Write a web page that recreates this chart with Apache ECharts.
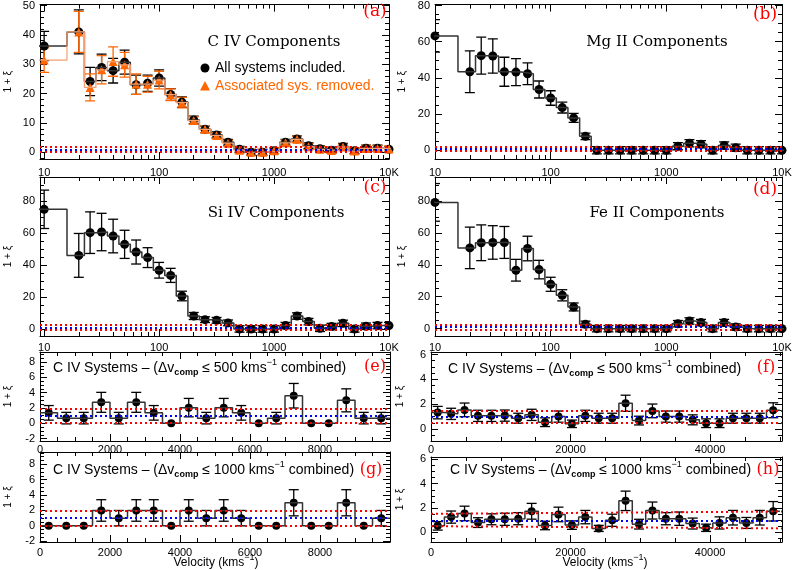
<!DOCTYPE html>
<html>
<head>
<meta charset="utf-8">
<script src="https://cdn.jsdelivr.net/npm/echarts@6/dist/echarts.min.js"></script>
<style>
html, body { margin: 0; padding: 0; background: #fff; }
#chart { width: 797px; height: 570px; }
</style>
</head>
<body>
<div id="chart"></div>
<script>
// ---- velocity bins (km/s) ----
// log panels: bin edges and plotted centres
const logEdges = [5, 15.8, 22.4, 28.2, 35.5, 44.7, 56.2, 70.8, 89.1, 112, 141, 178, 224, 282, 355, 447, 562, 708, 891, 1122, 1413, 1778, 2239, 2818, 3548, 4467, 5623, 7079, 8913, 11220];
const logCentres = [10, 20, 25.1, 31.6, 39.8, 50.1, 63.1, 79.4, 100, 126, 158, 200, 251, 316, 398, 501, 631, 794, 1000, 1259, 1585, 1995, 2512, 3162, 3981, 5012, 6310, 7943, 10000];
// linear panels (e, g): 500 km/s bins
const sysEdges = [0, 500, 1000, 1500, 2000, 2500, 3000, 3500, 4000, 4500, 5000, 5500, 6000, 6500, 7000, 7500, 8000, 8500, 9000, 9500, 10000];
const sysCentres = [250, 750, 1250, 1750, 2250, 2750, 3250, 3750, 4250, 4750, 5250, 5750, 6250, 6750, 7250, 7750, 8250, 8750, 9250, 9750];
// linear panels (f, h): 26 bins up to 50000 km/s
const wideEdges = [0, 1923, 3846, 5769, 7692, 9615, 11538, 13462, 15385, 17308, 19231, 21154, 23077, 25000, 26923, 28846, 30769, 32692, 34615, 36538, 38462, 40385, 42308, 44231, 46154, 48077, 50000];
const wideCentres = [962, 2885, 4808, 6731, 8654, 10577, 12500, 14423, 16346, 18269, 20192, 22115, 24038, 25962, 27885, 29808, 31731, 33654, 35577, 37500, 39423, 41346, 43269, 45192, 47115, 49038];

// ---- (a) C IV components ----
const civAll = [36.2, 41.0, 24.1, 28.9, 27.8, 30.7, 23.0, 23.5, 25.3, 19.7, 17.1, 11.0, 7.8, 5.9, 3.4, 1.0, 0, 0, 0.5, 3.4, 4.5, 2.2, 1.2, 0.7, 2.0, 0.5, 1.4, 1.4, 1.0];
const civAllErr = [5.0, 7.5, 4.8, 4.5, 4.2, 4.1, 3.3, 2.8, 2.8, 2.0, 1.8, 1.3, 1.1, 1.0, 1.0, 1.0, 1.0, 1.0, 1.0, 1.0, 1.1, 1.0, 1.0, 1.0, 1.0, 1.0, 1.0, 1.0, 1.0];
const civNoAssoc = [31.4, 41.0, 22.1, 28.1, 30.9, 29.8, 23.2, 23.2, 24.6, 19.6, 16.9, 10.8, 7.8, 5.7, 3.1, 0.7, 0, 0, 0.5, 3.2, 4.4, 1.9, 1.0, 0.6, 1.8, 0.4, 1.3, 1.3, 1.1];
const civNoAssocErr = [4.2, 7.0, 4.6, 4.8, 5.0, 4.2, 3.5, 2.7, 3.0, 2.0, 1.8, 1.3, 1.1, 1.0, 1.0, 1.0, 1.0, 1.0, 1.0, 1.0, 1.1, 1.0, 1.0, 1.0, 1.0, 1.0, 1.0, 1.0, 1.0];
// ---- (b) Mg II ----
const mg2 = [63.2, 43.4, 52.3, 52.1, 43.4, 43.2, 42.3, 33.6, 28.9, 23.6, 17.9, 7.7, 0, 0, 0, 0, 0, 0, 0, 2.3, 3.9, 3.4, 0, 2.7, 1.4, 0, 0, 0, 0];
const mg2Err = [9.0, 11.5, 10.2, 9.5, 8.0, 7.5, 6.0, 4.7, 4.0, 3.0, 2.5, 1.8, 2, 2, 2, 2, 2, 2, 2, 2, 2, 2, 2, 2, 2, 2, 2, 2, 2];
// ---- (c) Si IV ----
const si4 = [74.8, 46.0, 60.2, 60.6, 58.1, 52.9, 48.1, 44.6, 36.7, 33.5, 20.6, 8.1, 5.8, 5.4, 3.8, 0, 0, 0, 0, 2.1, 8.1, 4.6, 0.4, 1.5, 3.5, 0, 1.7, 2.1, 2.1];
const si4Err = [12.0, 13.7, 13.0, 11.7, 10.5, 8.8, 7.5, 6.2, 4.9, 4.4, 3.0, 2.2, 1.8, 1.8, 1.8, 2, 2, 2, 2, 2, 2, 2, 2, 2, 2, 2, 2, 2, 2];
// ---- (d) Fe II ----
const fe2 = [79.1, 50.6, 53.8, 54.0, 54.0, 36.6, 50.2, 37.0, 27.8, 20.9, 13.6, 2.7, 0, 0, 0, 0, 0, 0, 0, 3.1, 4.8, 3.8, 0, 3.8, 1.0, 0, 0, 0, 0];
const fe2Err = [11.8, 13.0, 11.2, 10.5, 10.0, 6.8, 7.7, 5.8, 4.4, 3.5, 2.5, 2.0, 2, 2, 2, 2, 2, 2, 2, 2, 2, 2, 2, 2, 2, 2, 2, 2, 2];
// ---- (e) C IV systems, 500 km/s merged ----
const sys500 = [1.37, 0.68, 0.68, 2.74, 0.68, 2.74, 1.37, 0, 2.05, 0.68, 2.05, 1.37, 0, 0.68, 3.6, 0, 0, 3.0, 0.68, 0.68];
const sys500Err = [0.95, 0.75, 0.75, 1.3, 0.75, 1.3, 0.95, 0, 1.2, 0.75, 1.2, 0.95, 0, 0.75, 1.6, 0, 0, 1.5, 0.75, 0.75];
// ---- (f) ----
const sys500w = [1.33, 1.23, 1.55, 1.07, 1.07, 1.09, 0.88, 1.15, 0.56, 1.01, 0.43, 1.07, 0.88, 0.88, 2.08, 0.69, 1.47, 1.01, 1.01, 0.75, 0.48, 0.48, 0.88, 0.88, 0.88, 1.52];
const sys500wErr = [0.5, 0.45, 0.55, 0.45, 0.45, 0.45, 0.4, 0.45, 0.35, 0.45, 0.3, 0.45, 0.4, 0.4, 0.65, 0.35, 0.55, 0.45, 0.45, 0.4, 0.35, 0.35, 0.4, 0.4, 0.4, 0.6];
// ---- (g) C IV systems, 1000 km/s merged ----
const sys1000 = [0, 0, 0, 2, 1, 2, 2, 0, 2, 1, 2, 1, 0, 0, 3, 0, 0, 3, 0, 1];
const sys1000Err = [0, 0, 0, 1.4, 1, 1.4, 1.4, 0, 1.4, 1, 1.4, 1, 0, 0, 1.7, 0, 0, 1.7, 0, 1];
// ---- (h) ----
const sys1000w = [0.53, 1.25, 1.55, 0.8, 1.07, 1.07, 1.12, 1.73, 0.56, 1.47, 0.59, 1.25, 0.32, 0.99, 2.59, 0.67, 1.79, 1.12, 1.12, 0.72, 0.37, 0.77, 1.2, 0.77, 1.2, 1.73];
const sys1000wErr = [0.35, 0.5, 0.6, 0.4, 0.45, 0.5, 0.5, 0.65, 0.35, 0.6, 0.35, 0.55, 0.25, 0.5, 0.8, 0.4, 0.7, 0.5, 0.55, 0.45, 0.3, 0.5, 0.6, 0.45, 0.6, 0.8];

// reference levels [start, end] : red, blue, red
const refA = [[2.0, 2.0], [1.0, 1.0], [0, 0]];
const refB = [[2.2, 2.2], [1.0, 1.0], [-0.2, -0.2]];
const refCD = [[2.6, 2.6], [1.0, 1.0], [-0.5, -0.5]];
const refE = [[1.9, 1.9], [1.0, 1.0], [0.1, 0.1]];
const refF = [[1.5, 1.5], [1.0, 1.0], [0.5, 0.5]];
const refG = [[2, 2], [1, 1], [0, 0]];
const refH = [[1.52, 1.71], [0.98, 0.98], [0.5, 0.32]];

const FONT = 'Liberation Sans, Helvetica, Arial, sans-serif';
const SERIF = 'DejaVu Serif, Liberation Serif, serif';
const ORANGE = '#ff6600';
const STEP = '#333';

const grids = [], xAxes = [], yAxes = [], series = [];

function ticksBetween(a, b, step) {
  const out = [];
  for (let v = a; v <= b + 1e-9; v += step) out.push(+v.toFixed(6));
  return out;
}
function logMinor(lo, hi) {
  const out = [];
  for (let d = 1; d <= 10000; d *= 10)
    for (let k = 1; k < 10; k++) {
      const v = d * k;
      if (v >= lo && v <= hi) out.push(Math.log10(v));
    }
  return out;
}

function stepData(edges, vals) {
  const out = [];
  vals.forEach((v, i) => { out.push([edges[i], v], [edges[i + 1], v]); });
  return out;
}
function errData(xs, vals, errs) {
  return xs.map((x, i) => [x, vals[i] - errs[i], vals[i] + errs[i]]);
}
function ptData(xs, vals) {
  return xs.map((x, i) => [x, vals[i]]);
}
function errRender(color) {
  return function (params, api) {
    const x = api.value(0), lo = api.value(1), hi = api.value(2);
    if (hi - lo <= 0) return { type: 'group', children: [] };
    const t = api.coord([x, hi]), b = api.coord([x, lo]);
    const w = 5, st = { stroke: color, lineWidth: 1.3 };
    return {
      type: 'group', children: [
        { type: 'line', shape: { x1: t[0], y1: t[1], x2: b[0], y2: b[1] }, style: st },
        { type: 'line', shape: { x1: t[0] - w, y1: t[1], x2: t[0] + w, y2: t[1] }, style: st },
        { type: 'line', shape: { x1: b[0] - w, y1: b[1], x2: b[0] + w, y2: b[1] }, style: st }
      ]
    };
  };
}

function addPanel(p) {
  const g = grids.length;
  grids.push({ left: p.box[0], top: p.box[1], width: p.box[2] - p.box[0], height: p.box[3] - p.box[1] });
  const xi = xAxes.length, yi = yAxes.length;
  const line = { show: true, onZero: false, lineStyle: { color: '#000', width: 1 } };
  const noLine = { show: false, onZero: false };
  const tickStyle = { color: '#000', width: 1 };

  ['bottom', 'top'].forEach(pos => {
    const major = {
      gridIndex: g, position: pos, splitLine: { show: false }, axisLine: line,
      axisTick: { inside: true, length: 7, lineStyle: tickStyle },
      axisLabel: pos === 'bottom' ? {
        margin: p.xMargin, fontSize: 11, color: '#000', fontFamily: FONT,
        showMinLabel: p.log ? p.x[0] >= 10 : true, showMaxLabel: true,
        formatter: v => (v >= 10000 && p.log) ? '10K' : String(Math.round(v))
      } : { show: false }
    };
    if (p.log) Object.assign(major, { type: 'log', logBase: 10, min: p.x[0], max: p.x[1] });
    else {
      Object.assign(major, { type: 'value', min: p.x[0], max: p.x[1] });
      major.axisTick.customValues = p.xMajor;
      if (pos === 'bottom') major.axisLabel.customValues = p.xLabels;
    }
    xAxes.push(major);
    const minor = {
      gridIndex: g, position: pos, type: 'value', splitLine: { show: false }, axisLine: noLine,
      axisLabel: { show: false },
      axisTick: { inside: true, length: 4, lineStyle: tickStyle,
        customValues: p.log ? logMinor(p.x[0], p.x[1]) : p.xMinor }
    };
    if (p.log) Object.assign(minor, { min: Math.log10(p.x[0]), max: Math.log10(p.x[1]) });
    else Object.assign(minor, { min: p.x[0], max: p.x[1] });
    xAxes.push(minor);
  });

  ['left', 'right'].forEach(pos => {
    const major = {
      gridIndex: g, position: pos, type: 'value', min: p.y[0], max: p.y[1],
      splitLine: { show: false }, axisLine: line,
      axisTick: { inside: true, length: 7, lineStyle: tickStyle, customValues: p.yMajor },
      axisLabel: pos === 'left' ? {
        margin: 5, fontSize: 11, color: '#000', fontFamily: FONT, customValues: p.yMajor
      } : { show: false }
    };
    if (pos === 'left') Object.assign(major, {
      name: '1 + ξ', nameLocation: 'middle', nameGap: p.nameGap,
      nameTextStyle: { fontSize: 10, color: '#000', fontFamily: FONT }
    });
    yAxes.push(major);
    yAxes.push({
      gridIndex: g, position: pos, type: 'value', min: p.y[0], max: p.y[1],
      splitLine: { show: false }, axisLine: noLine, axisLabel: { show: false },
      axisTick: { inside: true, length: 4, lineStyle: tickStyle, customValues: p.yMinor }
    });
  });

  const refColors = ['#ff0000', '#0000ff', '#ff0000'];
  series.push({
    type: 'line', xAxisIndex: xi, yAxisIndex: yi, data: [], silent: true,
    markLine: {
      silent: true, symbol: 'none', label: { show: false }, animation: false,
      data: p.ref.map((r, k) => [
        { coord: [p.x[0], r[0]], lineStyle: { color: refColors[k], type: [2, 3], width: 2 } },
        { coord: [p.x[1], r[1]] }
      ])
    }
  });
  p.sets.forEach(s => {
    series.push({
      type: 'line', xAxisIndex: xi, yAxisIndex: yi, data: stepData(p.edges, s.vals),
      symbol: 'none', showSymbol: false, clip: true, silent: true,
      lineStyle: { color: s.stepColor || STEP, width: s.stepWidth || 1.5 }
    });
  });
  p.sets.forEach(s => {
    series.push({
      type: 'custom', xAxisIndex: xi, yAxisIndex: yi, clip: true, silent: true,
      renderItem: errRender(s.color), encode: { x: 0, y: [1, 2] },
      data: errData(p.centres, s.vals, s.errs)
    });
    series.push({
      type: 'scatter', xAxisIndex: xi, yAxisIndex: yi, silent: true,
      symbol: s.symbol || 'circle', symbolSize: s.size || 9,
      itemStyle: { color: s.color, opacity: 1 },
      data: ptData(p.centres, s.vals)
    });
  });
}

const logBase = { log: true, edges: logEdges, centres: logCentres };
addPanel(Object.assign({}, logBase, {
  box: [40, 0, 389, 159], x: [9.2, 10000], y: [-2.3, 50.3],
  yMajor: [0, 10, 20, 30, 40, 50], yMinor: ticksBetween(-2, 50, 2), xMargin: 8, nameGap: 27, ref: refA,
  sets: [
    { vals: civAll, errs: civAllErr, color: '#000' },
    { vals: civNoAssoc, errs: civNoAssocErr, color: ORANGE, symbol: 'triangle', size: 9, stepColor: '#f5a070', stepWidth: 1.2 }
  ]
}));
addPanel(Object.assign({}, logBase, {
  box: [435, 0, 782, 159], x: [10, 10000], y: [-4.8, 80.5],
  yMajor: [0, 20, 40, 60, 80], yMinor: ticksBetween(0, 80, 5), xMargin: 8, nameGap: 28, ref: refB,
  sets: [{ vals: mg2, errs: mg2Err, color: '#000' }]
}));
addPanel(Object.assign({}, logBase, {
  box: [40, 177, 389, 336], x: [9.2, 10000], y: [-4.4, 95],
  yMajor: [0, 20, 40, 60, 80], yMinor: ticksBetween(0, 95, 5), xMargin: 6, nameGap: 27, ref: refCD,
  sets: [{ vals: si4, errs: si4Err, color: '#000' }]
}));
addPanel(Object.assign({}, logBase, {
  box: [435, 177, 782, 336], x: [10, 10000], y: [-4.6, 95],
  yMajor: [0, 20, 40, 60, 80], yMinor: ticksBetween(0, 95, 5), xMargin: 6, nameGap: 28, ref: refCD,
  sets: [{ vals: fe2, errs: fe2Err, color: '#000' }]
}));
const sysBase = {
  log: false, edges: sysEdges, centres: sysCentres, x: [0, 10000],
  xMajor: ticksBetween(0, 10000, 2000), xLabels: [0, 2000, 4000, 6000, 8000], xMinor: ticksBetween(0, 10000, 500),
  yMajor: [-2, 0, 2, 4, 6, 8], nameGap: 27
};
const wideBase = {
  log: false, edges: wideEdges, centres: wideCentres, x: [0, 50300],
  xMajor: [0, 20000, 40000], xLabels: [0, 20000, 40000], xMinor: ticksBetween(0, 50000, 5000),
  yMajor: [0, 2, 4, 6], yMinor: ticksBetween(-0.5, 6, 0.5), nameGap: 26
};
addPanel(Object.assign({}, sysBase, {
  box: [40, 352, 390, 441], y: [-2.3, 9.3], yMinor: ticksBetween(-2, 9, 0.5), xMargin: 3, ref: refE,
  sets: [{ vals: sys500, errs: sys500Err, color: '#000', size: 8 }]
}));
addPanel(Object.assign({}, wideBase, {
  box: [431, 352, 782, 441], y: [-0.95, 6.2], xMargin: 3, ref: refF,
  sets: [{ vals: sys500w, errs: sys500wErr, color: '#000', size: 8 }]
}));
addPanel(Object.assign({}, sysBase, {
  box: [40, 452, 390, 542], y: [-2.1, 9.6], yMinor: ticksBetween(-2, 9.5, 0.5), xMargin: 5, ref: refG,
  sets: [{ vals: sys1000, errs: sys1000Err, color: '#000', size: 8 }]
}));
addPanel(Object.assign({}, wideBase, {
  box: [431, 457, 782, 542], y: [-0.8, 6.2], xMargin: 5, ref: refH,
  sets: [{ vals: sys1000w, errs: sys1000wErr, color: '#000', size: 8 }]
}));

function txt(x, y, text, font, fill, align, rich) {
  const style = { text, font, fill, align: align || 'center', verticalAlign: 'middle',
    textAlign: align || 'center', textVerticalAlign: 'middle' };
  if (rich) style.rich = rich;
  return { type: 'text', x, y, silent: true, z: 100, style };
}
const subSup = {
  sub: { fontSize: 9, fontWeight: 'bold', fontFamily: FONT, lineHeight: 19, verticalAlign: 'bottom', fill: '#000' },
  sup: { fontSize: 9, fontFamily: FONT, lineHeight: 19, verticalAlign: 'top', fill: '#000' }
};
const sysTitle = n => 'C IV Systems – (Δv{sub|comp} ≤ ' + n + ' kms{sup|−1} combined)';

const graphic = [
  txt(274, 42, 'C IV Components', '15px ' + SERIF, '#000'),
  txt(657, 42, 'Mg II Components', '15px ' + SERIF, '#000'),
  txt(276, 213, 'Si IV Components', '15px ' + SERIF, '#000'),
  txt(657, 213, 'Fe II Components', '15px ' + SERIF, '#000'),
  txt(375, 12, '(a)', '17px ' + SERIF, '#ff0000'),
  txt(765, 15, '(b)', '17px ' + SERIF, '#ff0000'),
  txt(375, 188, '(c)', '17px ' + SERIF, '#ff0000'),
  txt(765, 190, '(d)', '17px ' + SERIF, '#ff0000'),
  { type: 'circle', shape: { cx: 205, cy: 68, r: 4.5 }, style: { fill: '#000' }, z: 100, silent: true },
  txt(215, 68, 'All systems included.', '14px ' + FONT, '#000', 'left'),
  { type: 'polygon', shape: { points: [[200, 90.5], [210, 90.5], [205, 81]] }, style: { fill: ORANGE }, z: 100, silent: true },
  txt(215, 86, 'Associated sys. removed.', '14px ' + FONT, ORANGE, 'left'),
  txt(53, 368, sysTitle(500), '14px ' + FONT, '#000', 'left', subSup),
  txt(375, 367, '(e)', '16px ' + SERIF, '#ff0000'),
  txt(448, 369, sysTitle(500), '14px ' + FONT, '#000', 'left', subSup),
  txt(766, 368, '(f)', '16px ' + SERIF, '#ff0000'),
  txt(53, 470, sysTitle(1000), '14px ' + FONT, '#000', 'left', subSup),
  txt(371, 470, '(g)', '16px ' + SERIF, '#ff0000'),
  txt(450, 470, sysTitle(1000), '14px ' + FONT, '#000', 'left', subSup),
  txt(768, 470, '(h)', '16px ' + SERIF, '#ff0000'),
  txt(216, 563, 'Velocity (kms{sup|−1})', '12px ' + FONT, '#000', 'center', subSup),
  txt(605, 563, 'Velocity (kms{sup|−1})', '12px ' + FONT, '#000', 'center', subSup)
];

const chart = echarts.init(document.getElementById('chart'), null, { renderer: 'canvas' });
chart.setOption({
  animation: false,
  backgroundColor: '#fff',
  grid: grids,
  xAxis: xAxes,
  yAxis: yAxes,
  series: series,
  graphic: graphic
});
</script>
</body>
</html>
